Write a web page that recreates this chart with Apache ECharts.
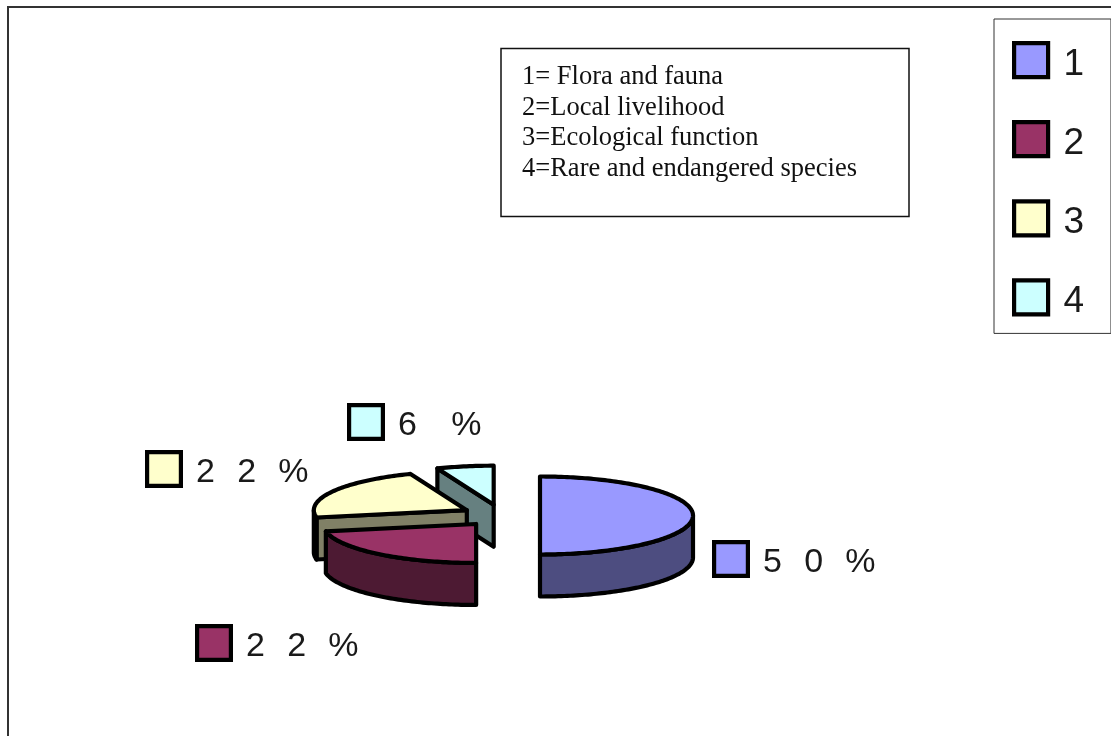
<!DOCTYPE html>
<html>
<head>
<meta charset="utf-8">
<style>html,body{margin:0;padding:0;background:#fff}#chart{width:1111px;height:736px}</style>
<script src="https://cdn.jsdelivr.net/npm/echarts@6/dist/echarts.min.js"></script>
</head>
<body>
<div id="chart"></div>
<script>
// Survey shares by category
const categories = ['1', '2', '3', '4'];
const shares = [50, 22, 22, 6];
const keyLines = [
  '1= Flora and fauna',
  '2=Local livelihood',
  '3=Ecological function',
  '4=Rare and endangered species'
];

// Colours per category: top face, shaded wall
const topColors = ['#9999ff', '#993366', '#ffffcc', '#ccffff'];
const wallColors = ['#4d4d80', '#4d1a33', '#808066', '#668080'];

// Exploded pie projection, in axis units
const pie = { cx: 501, cy: 515.5, rx: 153, ry: 39, depth: 42, explodeX: 39, explodeY: 11 };
const edge = 4.2;
// Swatch corner for each value label
const labelAnchors = [[712, 540], [195, 624], [145, 450], [347, 403]];
const swatch = 38;

const total = shares.reduce((a, b) => a + b, 0);
const startFraction = idx => shares.slice(0, idx).reduce((a, b) => a + b, 0) / total;

function labelTokens(value) {
  const digits = String(value).split('').map(d => '{d|' + d + '}');
  const gap = digits.length > 1 ? '{s| }' : '{w| }';
  return digits.join('{s| }') + gap + '{d|%}';
}

function renderSlice(idx, params, api) {
  const a0 = startFraction(idx) * 2 * Math.PI;
  const a1 = a0 + shares[idx] / total * 2 * Math.PI;
  const mid = (a0 + a1) / 2;
  const ox = pie.cx + Math.sin(mid) * pie.explodeX;
  const oy = pie.cy - Math.cos(mid) * pie.explodeY;
  const rim = (a, drop) => [ox + Math.sin(a) * pie.rx, oy - Math.cos(a) * pie.ry + drop];
  const sweep = (from, to, drop) => {
    const n = Math.max(2, Math.ceil(Math.abs(to - from) / 0.02));
    const pts = [];
    for (let i = 0; i <= n; i++) pts.push(rim(from + (to - from) * i / n, drop));
    return pts;
  };
  const toPixels = pts => pts.map(p => api.coord(p));
  const face = (pts, fill) => ({
    type: 'polygon',
    shape: { points: toPixels(pts) },
    style: { fill: fill, stroke: '#000', lineWidth: edge, lineJoin: 'round' }
  });
  const children = [];
  const apex = [ox, oy], apexLow = [ox, oy + pie.depth];

  // The leading cut face shows when the slice starts on the left half
  if (Math.sin(a0) < -0.01) {
    children.push(face([apex, rim(a0, 0), rim(a0, pie.depth), apexLow], wallColors[idx]));
  }
  // Outer wall covers the part of the rim on the near side of the ellipse
  const wallFrom = Math.max(a0, Math.PI / 2), wallTo = Math.min(a1, 3 * Math.PI / 2);
  if (wallTo > wallFrom) {
    children.push(face(sweep(wallFrom, wallTo, 0).concat(sweep(wallTo, wallFrom, pie.depth)), wallColors[idx]));
  }
  // Top face
  children.push(face([apex].concat(sweep(a0, a1, 0)), topColors[idx]));

  // Value label with its swatch
  const corner = api.coord(labelAnchors[idx]);
  children.push({
    type: 'rect',
    shape: { x: corner[0] + edge / 2, y: corner[1] + edge / 2, width: swatch - edge, height: swatch - edge },
    style: { fill: topColors[idx], stroke: '#000', lineWidth: edge }
  });
  children.push({
    type: 'text',
    style: {
      text: labelTokens(shares[idx]),
      x: corner[0] + swatch + 13,
      y: corner[1] + swatch / 2 + 4,
      verticalAlign: 'middle',
      fill: '#1a1a1a',
      rich: {
        d: { fontFamily: 'Liberation Sans', fontSize: 34, lineHeight: 40, fill: '#1a1a1a' },
        s: { fontFamily: 'Liberation Sans', fontSize: 80, lineHeight: 40 },
        w: { fontFamily: 'Liberation Sans', fontSize: 124, lineHeight: 40 }
      }
    }
  });
  return { type: 'group', children: children };
}

const chart = echarts.init(document.getElementById('chart'), null, { renderer: 'canvas' });
chart.setOption({
  animation: false,
  backgroundColor: '#fff',
  grid: { left: 0, right: 0, top: 0, bottom: 0 },
  xAxis: { type: 'value', min: 0, max: 1111, show: false },
  yAxis: { type: 'value', min: 0, max: 736, inverse: true, show: false },
  legend: {
    orient: 'vertical',
    left: 994,
    top: 19,
    padding: [22, 27, 13, 18],
    itemWidth: 34,
    itemHeight: 34,
    itemGap: 37,
    borderColor: '#333',
    borderWidth: 1,
    selectedMode: false,
    formatter: name => '{gap| }{n|' + name + '}',
    textStyle: {
      fontFamily: 'Liberation Sans',
      fontSize: 37,
      color: '#1a1a1a',
      rich: {
        gap: { fontSize: 1, lineHeight: 46 },
        n: {
          fontFamily: 'Liberation Sans',
          fontSize: 37,
          lineHeight: 40,
          color: '#1a1a1a',
          verticalAlign: 'bottom',
          padding: [0, 0, 0, 10]
        }
      }
    },
    data: categories.map((name, i) => ({
      name: name,
      icon: 'rect',
      itemStyle: { color: topColors[i], borderColor: '#000', borderWidth: edge }
    }))
  },
  graphic: [
    {
      type: 'polyline',
      silent: true,
      shape: { points: [[8, 736], [8, 7], [1111, 7]] },
      style: { stroke: '#333', lineWidth: 2, fill: null }
    },
    {
      type: 'rect',
      silent: true,
      shape: { x: 501, y: 48.5, width: 408, height: 168 },
      style: { fill: '#fff', stroke: '#111', lineWidth: 1.5 }
    },
    {
      type: 'text',
      silent: true,
      style: {
        text: keyLines.join('\n'),
        x: 522,
        y: 62,
        fontFamily: 'Liberation Serif',
        fontSize: 26.5,
        lineHeight: 30.6,
        fill: '#111'
      }
    }
  ],
  series: categories.map((name, i) => ({
    type: 'custom',
    name: name,
    coordinateSystem: 'cartesian2d',
    clip: false,
    silent: true,
    itemStyle: { color: topColors[i] },
    z: 2 + (categories.length - i),
    data: [[shares[i], 0]],
    renderItem: (params, api) => renderSlice(i, params, api)
  }))
});
</script>
</body>
</html>
